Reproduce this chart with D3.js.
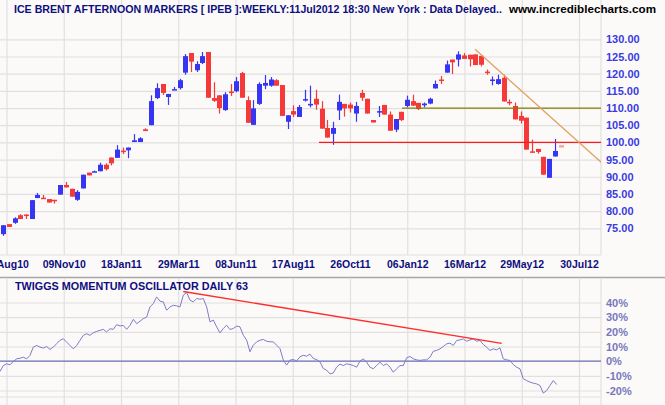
<!DOCTYPE html>
<html><head><meta charset="utf-8">
<script src="https://cdn.jsdelivr.net/npm/d3@7"></script>
<style>
body{margin:0;background:#fcfaf9;}
svg{display:block;font-family:"Liberation Sans",Arial,sans-serif;}
</style>
</head><body>
<svg id="c" width="665" height="405"></svg>
<script>
// ---------- data ----------
const dateLabels = ["31Aug10","09Nov10","18Jan11","29Mar11","08Jun11","17Aug11","26Oct11","06Jan12","16Mar12","29May12","30Jul12"];
const dateTickDays = [0,50,100,150,200,250,300,350,400,450,500];
const priceTicks = [75,80,85,90,95,100,105,110,115,120,125,130];
const oscTicks = [-20,-10,0,10,20,30,40];

const open  = [73.3,76.2,76.6,78.8,79.0,77.7,83.8,83.9,83.5,83.3,84.8,87.6,86.5,83.3,86.6,91.2,91.4,91.6,93.5,95.6,95.5,97.6,97.7,100.1,100.1,103.8,105.0,112.9,117.0,113.2,115.3,115.8,120.3,126.0,121.0,123.1,126.3,112.9,113.7,109.4,114.8,114.9,120.2,112.3,105.1,111.2,116.5,116.5,118.1,116.7,106.0,109.1,107.4,112.5,111.1,112.7,109.8,104.2,102.5,109.3,111.2,111.0,108.4,114.4,112.7,106.5,108.7,110.9,108.1,103.7,108.9,110.6,112.0,111.5,110.8,111.3,115.7,118.3,120.3,124.1,124.1,125.3,125.5,125.6,125.2,120.6,118.1,117.0,118.8,111.8,110.6,107.7,107.2,97.4,98.1,95.8,89.7,95.9,99.2];
const high  = [75.9,76.2,78.2,79.1,79.1,83.2,85.3,84.7,83.5,83.3,87.6,88.5,86.5,86.1,90.6,91.2,91.8,94.1,93.9,95.6,99.2,98.5,98.5,102.4,101.5,104.1,113.7,117.2,117.0,114.1,116.1,118.5,125.7,126.0,123.6,126.3,126.3,117.5,113.7,114.6,117.0,119.0,120.5,113.4,112.3,117.5,119.6,119.0,118.4,116.7,107.9,110.8,110.9,115.3,116.5,115.3,112.0,106.5,106.0,113.9,111.2,111.6,111.8,115.3,112.7,106.5,110.6,110.9,109.0,106.8,108.9,113.6,113.9,111.5,111.6,113.0,118.0,119.3,123.8,124.1,126.5,126.0,125.5,125.6,125.2,121.2,119.2,119.7,119.7,112.5,111.6,109.0,107.2,100.8,98.1,95.8,95.2,101.0,99.2];
const low   = [72.8,75.4,76.3,77.7,77.7,77.7,83.8,83.6,82.5,82.2,84.8,86.9,84.2,83.0,86.6,90.4,91.4,91.6,91.8,93.3,95.5,96.6,95.4,100.1,100.1,103.3,105.0,112.6,113.8,110.9,115.3,115.4,119.7,120.5,120.5,122.8,113.0,111.8,108.4,109.2,113.5,114.6,113.0,105.7,105.1,110.9,115.5,116.2,116.5,107.7,103.9,107.4,107.4,111.9,110.2,109.5,104.0,101.4,99.3,106.5,107.5,108.7,106.0,112.1,108.4,105.8,107.4,108.1,103.4,103.0,106.2,110.2,110.6,109.4,110.2,111.1,115.7,117.0,120.3,119.9,122.1,124.3,122.1,122.5,122.1,119.7,116.6,116.8,111.9,110.8,106.7,105.5,97.9,97.0,96.7,90.6,89.7,95.9,98.5];
const close = [75.9,75.4,77.9,77.7,78.8,83.2,84.7,83.8,82.5,83.2,87.6,86.9,84.2,85.6,90.6,90.4,91.6,93.5,92.2,93.9,97.9,97.2,98.5,100.6,101.2,103.3,112.0,115.8,114.4,114.1,115.5,118.1,125.1,123.5,122.8,125.1,113.0,112.1,110.0,114.0,114.6,117.8,113.0,105.7,109.9,117.0,117.3,118.3,116.5,107.7,107.9,108.1,110.3,112.6,111.2,111.0,104.0,101.4,104.2,111.8,109.9,109.9,110.6,113.0,108.4,105.8,109.1,108.1,103.4,106.8,106.5,112.4,110.7,109.7,111.3,112.7,117.0,118.1,122.7,123.3,125.6,124.3,124.2,122.5,122.6,120.5,118.3,118.4,111.9,111.6,106.7,106.3,97.9,97.0,97.2,90.6,95.2,97.5,98.5];

const oscValues = [-7,-3,-1.8,-2.5,-0.2,1.6,2,2.7,1.6,3.9,9.6,10.7,9.6,8.9,10,8,9.6,11.9,14.2,15.3,13,10.7,8.4,10.7,14.2,17.6,18.7,17.6,19.4,20.3,21,21.7,19.9,22.1,21.7,24.9,24,24.4,21.7,24.4,28.5,25.6,27.2,29,30.1,37,39.3,43.8,40.9,40.4,34.7,37,38.1,37.7,37,45,46.8,41.6,40.4,42.7,42.2,42.7,37,26.8,28,23.4,19.3,22.3,24.5,21.6,22.3,23.9,23.4,17.7,14.3,6.4,10.9,13.2,14.3,14.8,13.6,13.2,13.2,10.9,8.6,0.7,-2.7,0.7,1.1,0.2,3,4,3.4,4.8,1.8,1.1,-0.5,-5,-6.1,-8.7,-8,-4,-2,-3,-1.8,-2.3,-3,-4.1,0,1.6,-0.7,-4.1,-5.2,-3,-0.7,-3,-1.8,-4.1,-7.5,-5.2,-3,-3,2.3,3.2,1.6,0.9,0.5,0.9,0.9,2.7,6.8,7.3,8.4,10,11.8,12.3,10.7,14.1,14.5,15.2,13.6,14.5,15.2,13.6,14.1,11.4,9.5,7.3,8.4,7.7,9.1,1.6,0.9,0.5,-2.3,-4.1,-5.2,-12,-13.2,-14.3,-15,-15.5,-16.6,-21.8,-20,-16.6,-13.2,-15.9];

// annotation lines, [tradingDay, value]
const supportLine = [[272.9,100],[540,100]];
const resistLine  = [[345.4,110],[540,110]];
const downTrend   = [[409.2,127.1],[519.8,94.1]];
const oscTrend    = [[154.4,47.5],[432.5,12.1]];

// ---------- layout ----------
const plotL = 0, plotR = 601;
const mainTop = 0, mainBot = 255;
const oscTop = 279, oscBot = 397;
const candleStartDay = -2.8, candleStepDays = 4.966;
const oscStartDay = -5.68, oscStepDays = 2.911;

const C = {bg:"#fcfaf9", grid:"#e2e0df", up:"#3535f2", down:"#f53838", ghost:"#f4a4a4",
           navy:"#0e0e7e", priceTxt:"#3a3ae0", oscTxt:"#7878bc", oscLine:"#7c7cc8", zero:"#6a6ab4",
           support:"#ff1a1a", resist:"#808000", trend:"#e0a060"};

const svg = d3.select("#c");
svg.append("rect").attr("width",665).attr("height",405).attr("fill",C.bg);

const x = d3.scaleLinear().domain([0,500]).range([6.5,579]);
const y = d3.scaleLinear().domain([75,130]).range([228.3,39.3]);
const yo = d3.scaleLinear().domain([-20,40]).range([390.5,302.5]);

const defs = svg.append("defs");
defs.append("clipPath").attr("id","clipMain").append("rect").attr("x",plotL).attr("y",mainTop).attr("width",plotR-plotL).attr("height",mainBot-mainTop);
defs.append("clipPath").attr("id","clipOsc").append("rect").attr("x",plotL).attr("y",oscTop).attr("width",plotR-plotL).attr("height",oscBot-oscTop);

// ---------- grids ----------
function vgrid(top,bot){
  const g = svg.append("g").attr("transform",`translate(0,${bot})`)
    .call(d3.axisBottom(x).tickValues(dateTickDays).tickSize(-(bot-top)).tickFormat(""));
  g.select(".domain").remove();
  g.selectAll("line").attr("stroke",C.grid).attr("stroke-width",1.2);
}
vgrid(mainTop,mainBot);
vgrid(oscTop,oscBot+8);

const hg = svg.append("g").attr("transform",`translate(${plotL},0)`)
  .call(d3.axisRight(y).tickValues(priceTicks).tickSize(plotR-plotL).tickFormat(""));
hg.select(".domain").remove();
hg.selectAll("line").attr("stroke",C.grid).attr("stroke-width",1.2);

const hgo = svg.append("g").attr("transform",`translate(${plotL},0)`)
  .call(d3.axisRight(yo).tickValues(oscTicks.filter(v=>v!==0)).tickSize(plotR-plotL).tickFormat(""));
hgo.select(".domain").remove();
hgo.selectAll("line").attr("stroke",C.grid).attr("stroke-width",1.2);

// borders
svg.append("line").attr("x1",plotR).attr("x2",plotR).attr("y1",mainTop).attr("y2",mainBot).attr("stroke",C.grid).attr("stroke-width",1.2);
svg.append("line").attr("x1",plotL).attr("x2",plotR).attr("y1",mainBot).attr("y2",mainBot).attr("stroke",C.grid).attr("stroke-width",1.2);
svg.append("line").attr("x1",plotR).attr("x2",plotR).attr("y1",oscTop).attr("y2",oscBot+8).attr("stroke",C.grid).attr("stroke-width",1.2);
svg.append("line").attr("x1",plotL).attr("x2",plotR).attr("y1",oscBot).attr("y2",oscBot).attr("stroke",C.grid).attr("stroke-width",1.2);
// separator
svg.append("line").attr("x1",0).attr("x2",665).attr("y1",277.5).attr("y2",277.5).attr("stroke","#a6a6a6").attr("stroke-width",1.5);

// ---------- candles ----------
const candles = open.map((o,i)=>({i,o,h:high[i],l:low[i],c:close[i]}));
const cx = d => x(candleStartDay + d.i*candleStepDays);
const last = candles.length-1;
const colorOf = d => d.i===last ? C.ghost : (d.c>=d.o ? C.up : C.down);
const mg = svg.append("g").attr("clip-path","url(#clipMain)");
mg.selectAll("line.wick").data(candles.filter(d=>d.i!==last)).join("line")
  .attr("x1",d=>Math.round(cx(d))+0.5).attr("x2",d=>Math.round(cx(d))+0.5)
  .attr("y1",d=>y(d.h)).attr("y2",d=>y(d.l)).attr("stroke",colorOf).attr("stroke-width",1.2);
mg.selectAll("rect.body").data(candles).join("rect")
  .attr("x",d=>Math.round(cx(d))-2).attr("width",5)
  .attr("y",d=>y(Math.max(d.o,d.c)))
  .attr("height",d=>Math.max(1.5, Math.abs(y(d.o)-y(d.c))))
  .attr("fill",colorOf);

// annotation lines
const lineP = d3.line().x(d=>x(d[0])).y(d=>y(d[1]));
mg.append("path").attr("d",lineP(supportLine)).attr("stroke",C.support).attr("stroke-width",1.3).attr("fill","none");
mg.append("path").attr("d",lineP(resistLine)).attr("stroke",C.resist).attr("stroke-width",1.3).attr("fill","none");
mg.append("path").attr("d",lineP(downTrend)).attr("stroke",C.trend).attr("stroke-width",1.3).attr("fill","none");

// ---------- oscillator ----------
const og = svg.append("g").attr("clip-path","url(#clipOsc)");
og.append("line").attr("x1",plotL).attr("x2",plotR).attr("y1",yo(0)).attr("y2",yo(0)).attr("stroke",C.zero).attr("stroke-width",1.2);
const oscLine = d3.line().x((v,k)=>x(oscStartDay + k*oscStepDays)).y(v=>yo(v));
og.append("path").attr("d",oscLine(oscValues)).attr("fill","none").attr("stroke",C.oscLine).attr("stroke-width",1);
og.append("path").attr("d",d3.line().x(d=>x(d[0])).y(d=>yo(d[1]))(oscTrend)).attr("fill","none").attr("stroke","#ff2a2a").attr("stroke-width",1.3);

// ---------- axes text ----------
const pa = svg.append("g").attr("transform",`translate(604,0)`)
  .call(d3.axisRight(y).tickValues(priceTicks).tickSize(0).tickPadding(2).tickFormat(d3.format(".2f")));
pa.select(".domain").remove();
pa.selectAll("text").attr("fill",C.priceTxt).attr("font-weight","bold").attr("font-size",11).attr("font-family","Liberation Sans, Arial, sans-serif");

const oa = svg.append("g").attr("transform",`translate(604,0)`)
  .call(d3.axisRight(yo).tickValues(oscTicks).tickSize(0).tickPadding(2).tickFormat(d=>d+"%"));
oa.select(".domain").remove();
oa.selectAll("text").attr("fill",C.oscTxt).attr("font-weight","bold").attr("font-size",11).attr("font-family","Liberation Sans, Arial, sans-serif");

const xa = svg.append("g").attr("transform",`translate(0,${mainBot})`)
  .call(d3.axisBottom(x).tickValues(dateTickDays).tickSize(0).tickPadding(6).tickFormat((d,i)=>dateLabels[i]));
xa.select(".domain").remove();
xa.selectAll("text").attr("fill",C.navy).attr("font-weight","bold").attr("font-size",10.5).attr("font-family","Liberation Sans, Arial, sans-serif");

// titles
svg.append("text").attr("x",14).attr("y",13).attr("fill",C.navy).attr("font-weight","bold").attr("font-size",11)
  .attr("textLength",488).attr("lengthAdjust","spacingAndGlyphs")
  .text("ICE BRENT AFTERNOON MARKERS [ IPEB ]:WEEKLY:11Jul2012 18:30 New York : Data Delayed..");
svg.append("text").attr("x",509).attr("y",13).attr("fill","#000").attr("font-weight","bold").attr("font-size",11)
  .attr("textLength",147).attr("lengthAdjust","spacingAndGlyphs")
  .text("www.incrediblecharts.com");
svg.append("text").attr("x",15).attr("y",290).attr("fill",C.navy).attr("font-weight","bold").attr("font-size",10)
  .attr("textLength",233).attr("lengthAdjust","spacingAndGlyphs")
  .text("TWIGGS MOMENTUM OSCILLATOR DAILY 63");
</script>
</body></html>
